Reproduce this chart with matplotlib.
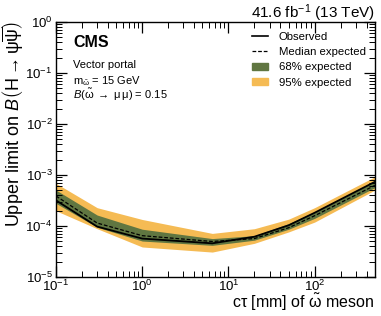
import matplotlib
matplotlib.use("Agg")
import matplotlib.pyplot as plt
from matplotlib.patches import Patch
from matplotlib.lines import Line2D
from matplotlib.ticker import LogLocator, NullFormatter

plt.rcParams['font.family'] = ['Liberation Sans', 'DejaVu Sans']
plt.rcParams['mathtext.fontset'] = 'custom'
plt.rcParams['mathtext.rm'] = 'Liberation Sans'
plt.rcParams['mathtext.it'] = 'Liberation Sans:italic'
plt.rcParams['mathtext.bf'] = 'Liberation Sans:bold'

# ctau points [mm] and limits
ctau = [0.1, 0.3, 1.0, 6.5, 20.0, 50.0, 100.0, 500.0]
observed = [3.2e-4, 9.8e-5, 5.7e-5, 4.6e-5, 6.2e-5, 1.04e-4, 1.83e-4, 7.4e-4]
expected = [3.9e-4, 1.15e-4, 6.5e-5, 5.0e-5, 5.7e-5, 9.3e-5, 1.6e-4, 6.3e-4]
exp_68_lo = [2.8e-4, 9.5e-5, 5.1e-5, 4.2e-5, 5.3e-5, 8.7e-5, 1.42e-4, 5.7e-4]
exp_68_hi = [5.1e-4, 1.65e-4, 8.7e-5, 5.7e-5, 6.5e-5, 1.12e-4, 1.9e-4, 7.7e-4]
exp_95_lo = [2.0e-4, 8.9e-5, 3.9e-5, 3.1e-5, 4.6e-5, 7.7e-5, 1.2e-4, 5.1e-4]
exp_95_hi = [6.9e-4, 2.3e-4, 1.35e-4, 7.2e-5, 8.9e-5, 1.37e-4, 2.3e-4, 9.3e-4]

green = '#607641'
yellow = '#f5bb54'

fig = plt.figure(figsize=(3.81, 3.16), dpi=100)
ax = fig.add_axes([0.147, 0.123, 0.837, 0.807])

ax.fill_between(ctau, exp_95_lo, exp_95_hi, color=yellow, lw=0)
ax.fill_between(ctau, exp_68_lo, exp_68_hi, color=green, lw=0)
ax.plot(ctau, expected, color='black', ls='--', lw=0.9, dashes=(3, 1.5))
ax.plot(ctau, observed, color='black', ls='-', lw=1.3)

ax.set_xscale('log')
ax.set_yscale('log')
ax.set_xlim(0.1, 500)
ax.set_ylim(1e-5, 1)

ax.xaxis.set_major_locator(LogLocator(base=10, numticks=10))
ax.xaxis.set_minor_locator(LogLocator(base=10, subs=range(2, 10), numticks=20))
ax.xaxis.set_minor_formatter(NullFormatter())
ax.yaxis.set_minor_locator(LogLocator(base=10, subs=range(2, 10), numticks=20))
ax.yaxis.set_minor_formatter(NullFormatter())
ax.tick_params(which='both', direction='in', top=True, right=True, labelsize=9.5)
ax.tick_params(axis='x', pad=1.5)
ax.tick_params(axis='y', pad=2.5)
ax.tick_params(which='major', length=8, width=0.9)
ax.tick_params(which='minor', length=4, width=0.7)
for s in ax.spines.values():
    s.set_linewidth(1.0)

ax.set_xlabel(r'c$\mathrm{\tau}$ [mm] of $\tilde{\mathrm{\omega}}$ meson', fontsize=11.5)
ax.xaxis.set_label_coords(1.0, -0.123)
ax.xaxis.label.set_ha('right')
ax.xaxis.label.set_va('baseline')
ax.set_ylabel(r'Upper limit on $\mathit{B}\left(\mathrm{H}\rightarrow\mathrm{\psi}\overline{\mathrm{\psi}}\right)$',
              fontsize=13)
ax.yaxis.set_label_coords(-0.098, 1.005)
ax.yaxis.label.set_ha('right')

ax.text(0.053, 0.92, 'CMS', transform=ax.transAxes, fontsize=11.5, fontweight='bold', va='center')
ax.text(0.053, 0.83, 'Vector portal', transform=ax.transAxes, fontsize=8, va='center')
ax.text(0.053, 0.77, r'm$_{\tilde{\mathrm{\omega}}}$ = 15 GeV', transform=ax.transAxes, fontsize=8, va='center')
ax.text(0.053, 0.715, r'$\mathit{B}$($\tilde{\mathrm{\omega}}$ $\rightarrow$ $\mathrm{\mu\,\mu}$) = 0.15',
        transform=ax.transAxes, fontsize=8, va='center')
ax.text(1.0, 1.016, r'41.6 fb$^{-1}$ (13 TeV)', transform=ax.transAxes, fontsize=11,
        ha='right', va='baseline')

handles = [Line2D([], [], color='black', lw=1.2),
           Line2D([], [], color='black', lw=0.9, ls='--', dashes=(3, 1.5)),
           Patch(color=green), Patch(color=yellow)]
labels = ['Observed', 'Median expected', '68% expected', '95% expected']
ax.legend(handles, labels, loc='upper left', frameon=False, fontsize=8.2,
          bbox_to_anchor=(0.614, 0.963), borderpad=0, borderaxespad=0,
          handlelength=1.4, handleheight=0.6, handletextpad=0.95, labelspacing=0.47)

fig.savefig('out.png', dpi=100)
